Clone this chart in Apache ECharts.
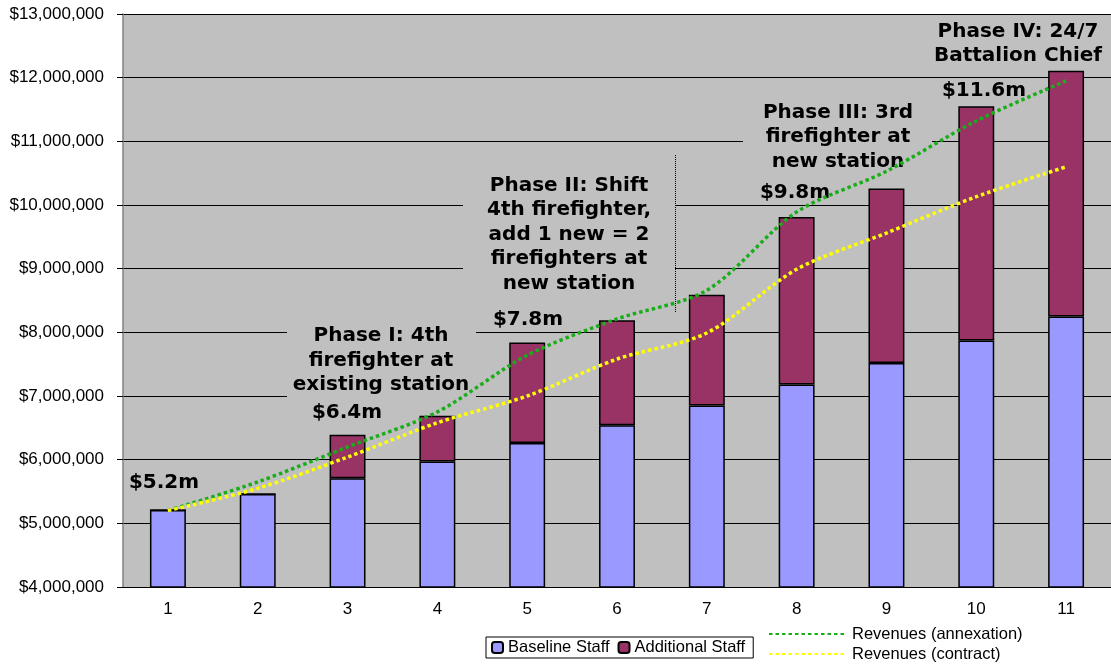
<!DOCTYPE html>
<html>
<head>
<meta charset="utf-8">
<script src="https://cdn.jsdelivr.net/npm/echarts@6/dist/echarts.min.js"></script>
<style>
  html, body { margin: 0; padding: 0; background: #fff; }
  #chart { width: 1111px; height: 664px; }
</style>
</head>
<body>
<div id="chart"></div>
<script>
// data
const years = ['1', '2', '3', '4', '5', '6', '7', '8', '9', '10', '11'];
const baselineStaff = [5210000, 5460000, 5710000, 5970000, 6260000, 6540000, 6850000, 7180000, 7520000, 7870000, 8250000];
const additionalStaff = [0, 0, 680000, 720000, 1580000, 1650000, 1740000, 2630000, 2740000, 3680000, 3860000];
const revenuesAnnexation = [5200000, 5650000, 6200000, 6750000, 7640000, 8210000, 8660000, 9890000, 10530000, 11320000, 11950000];
const revenuesContract = [5200000, 5550000, 6040000, 6580000, 7000000, 7580000, 7990000, 8990000, 9560000, 10130000, 10600000];

const axisFont = 'Liberation Sans, Arial, sans-serif';
const noteFont = 'DejaVu Sans, Verdana, sans-serif';

// notes drawn on top of the plot (text boxes in the original)
const note = (text, x, y) => ({
  type: 'text',
  z: 1,
  style: {
    text: text,
    x: x,
    y: y,
    textAlign: 'center',
    textVerticalAlign: 'middle',
    fontFamily: noteFont,
    fontWeight: 'bold',
    fontSize: 20,
    lineHeight: 24.4,
    fill: '#000'
  }
});
const box = (x, y, w, h) => ({
  type: 'rect',
  z: 1,
  shape: { x: x, y: y, width: w, height: h },
  style: { fill: '#C0C0C0' }
});

const chartInstance = echarts.init(document.getElementById('chart'));

const option = {
  animation: false,
  grid: {
    left: 123,
    top: 14,
    right: -8,
    bottom: 77,
    show: true,
    backgroundColor: '#C0C0C0',
    borderWidth: 0
  },
  legend: [
    {
      data: ['Baseline Staff', 'Additional Staff'],
      left: 486,
      top: 637,
      padding: [2, 8, 2, 5],
      itemGap: 8,
      itemWidth: 11,
      itemHeight: 11,
      borderColor: '#000',
      borderWidth: 1,
      backgroundColor: '#fff',
      textStyle: { fontFamily: axisFont, fontSize: 16.5, color: '#000' }
    },
    {
      data: ['Revenues (annexation)', 'Revenues (contract)'],
      orient: 'vertical',
      left: 768,
      top: 625,
      padding: 0,
      itemGap: 2,
      itemWidth: 78,
      itemHeight: 14,
      itemStyle: { opacity: 0 },
      textStyle: { fontFamily: axisFont, fontSize: 16.5, lineHeight: 18, color: '#000' }
    }
  ],
  xAxis: {
    type: 'category',
    data: years,
    axisLine: { lineStyle: { color: '#000', width: 1 } },
    axisTick: { length: 6, lineStyle: { color: '#000' } },
    axisLabel: { margin: 14, fontFamily: axisFont, fontSize: 17, color: '#000' }
  },
  yAxis: {
    type: 'value',
    min: 4000000,
    max: 13000000,
    interval: 1000000,
    axisLine: { show: true, lineStyle: { color: '#808080', width: 1.5 } },
    axisTick: { show: true, length: 6, lineStyle: { color: '#000' } },
    axisLabel: {
      margin: 19,
      fontFamily: axisFont,
      fontSize: 17,
      color: '#000',
      formatter: (v) => '$' + v.toLocaleString('en-US')
    },
    splitLine: { lineStyle: { color: '#000', width: 1 } }
  },
  series: [
    {
      name: 'Baseline Staff',
      type: 'bar',
      stack: 'cost',
      barWidth: '40%',
      data: baselineStaff,
      itemStyle: { color: '#9999FF', borderColor: '#000', borderWidth: 1.5 }
    },
    {
      name: 'Additional Staff',
      type: 'bar',
      stack: 'cost',
      barWidth: '40%',
      data: additionalStaff,
      itemStyle: { color: '#993366', borderColor: '#000', borderWidth: 1.5 }
    },
    {
      name: 'Revenues (annexation)',
      type: 'line',
      data: revenuesAnnexation,
      smooth: 0.3,
      symbol: 'none',
      z: 3,
      color: '#19AD19',
      lineStyle: { color: '#19AD19', width: 3.5, type: [3.5, 3], cap: 'butt' }
    },
    {
      name: 'Revenues (contract)',
      type: 'line',
      data: revenuesContract,
      smooth: 0.3,
      symbol: 'none',
      z: 3,
      color: '#FFFF00',
      lineStyle: { color: '#FFFF00', width: 3.5, type: [3.5, 3], cap: 'butt' }
    }
  ],
  graphic: [
    box(287, 322, 189, 104),
    box(463, 156, 212, 150),
    box(743, 100, 189, 72),
    {
      type: 'line',
      z: 1,
      shape: { x1: 675.5, y1: 155, x2: 675.5, y2: 312 },
      style: { stroke: '#000', lineWidth: 1, lineDash: [1, 1] }
    },
    note('$5.2m', 164, 482.5),
    note('Phase I: 4th\nfirefighter at\nexisting station', 381, 360.5),
    note('$6.4m', 347, 412.7),
    note('$7.8m', 528, 319.5),
    note('Phase II: Shift\n4th firefighter,\nadd 1 new = 2\nfirefighters at\nnew station', 569, 234.5),
    note('Phase III: 3rd\nfirefighter at\nnew station', 838, 137),
    note('$9.8m', 795, 193),
    note('$11.6m', 984, 91),
    note('Phase IV: 24/7\nBattalion Chief', 1018, 44)
  ]
};
chartInstance.setOption(option);
</script>
</body>
</html>
